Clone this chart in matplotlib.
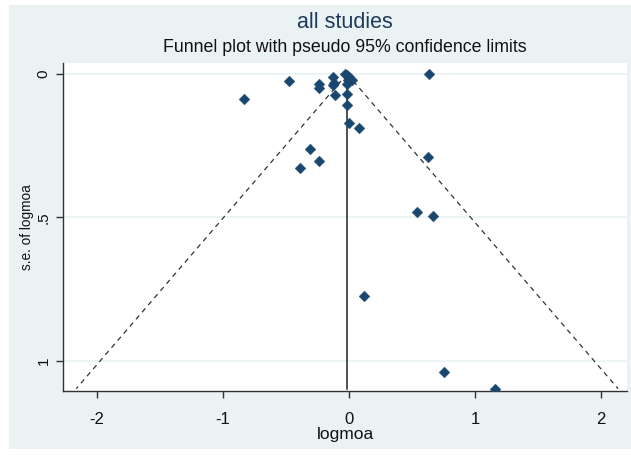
import numpy as np
import matplotlib
matplotlib.use("Agg")
import matplotlib.pyplot as plt
from matplotlib.patches import Rectangle

plt.rcParams['font.family'] = ['Liberation Sans', 'DejaVu Sans']

# Study effect sizes (logmoa) and their standard errors
logmoa = [-0.833, -0.476, -0.24, -0.24, -0.13, -0.12, -0.13, -0.11,
          -0.03, -0.02, 0.0, -0.01, 0.02, -0.02, -0.02, -0.02, 0.0, 0.08,
          -0.31, -0.24, -0.39, 0.635, 0.63, 0.54, 0.67, 0.12, 0.75, 1.16]
se_logmoa = [0.087, 0.023, 0.035, 0.05, 0.01, 0.03, 0.04, 0.074,
             0.0, 0.005, 0.012, 0.02, 0.02, 0.035, 0.07, 0.107, 0.172, 0.188,
             0.263, 0.305, 0.328, 0.0, 0.289, 0.481, 0.495, 0.773, 1.04, 1.097]
pooled = -0.015
x_ticks = [-2, -1, 0, 1, 2]
y_ticks = [0, 0.5, 1]
y_ticklabels = ['0', '.5', '1']

W, H = 631, 457
fig = plt.figure(figsize=(W / 100, H / 100), dpi=100)
fig.patch.set_facecolor('white')
fig.add_artist(Rectangle((9 / W, (H - 449) / H), (W - 9) / W, (449 - 5) / H,
                         transform=fig.transFigure, facecolor='#eaf2f3',
                         edgecolor='none', zorder=0))

ax = fig.add_axes([63 / W, (H - 391) / H, (627 - 63) / W, (391 - 63) / H])
ax.set_facecolor('white')

max_se = max(se_logmoa)
se_line = np.array([0, max_se])
ax.plot(pooled - 1.96 * se_line, se_line, color='#333333', lw=0.9,
        linestyle=(0, (4, 3.5)), zorder=2)
ax.plot(pooled + 1.96 * se_line, se_line, color='#333333', lw=0.9,
        linestyle=(0, (4, 3.5)), zorder=2)
ax.plot([pooled, pooled], [0, max_se], color='#222222', lw=1.1, zorder=2)

ax.scatter(logmoa, se_logmoa, marker='D', s=30, color='#1a476f',
           edgecolors='#1a476f', linewidths=0.3, zorder=3)

ax.set_xlim(-2.27, 2.206)
ax.set_ylim(1.105, -0.038)
ax.set_xticks(x_ticks)
ax.set_xticklabels([str(t) for t in x_ticks])
ax.set_yticks(y_ticks)
ax.set_yticklabels(y_ticklabels, rotation=90, va='center')

ax.grid(axis='y', color='#eaf2f3', lw=1.2)
ax.set_axisbelow(True)
for s in ['top', 'right']:
    ax.spines[s].set_visible(False)
for s in ['left', 'bottom']:
    ax.spines[s].set_color('#333333')
    ax.spines[s].set_linewidth(1.0)
ax.tick_params(axis='both', length=5, width=1, color='#333333',
               labelcolor='#111111')
ax.tick_params(axis='x', labelsize=12, pad=10)
ax.tick_params(axis='y', labelsize=11, pad=4)

ax.set_xlabel('logmoa', fontsize=12.5, color='#111111', labelpad=0)
ax.set_ylabel('s.e. of logmoa', fontsize=9.8, color='#111111', labelpad=2)

fig.text(345 / W, 1 - 22 / H, 'all studies', ha='center', va='center',
         fontsize=15.5, color='#1e3b5c')
fig.text(345 / W, 1 - 48 / H, 'Funnel plot with pseudo 95% confidence limits',
         ha='center', va='center', fontsize=12.8, color='#111111')

fig.savefig('out.png', dpi=100)
